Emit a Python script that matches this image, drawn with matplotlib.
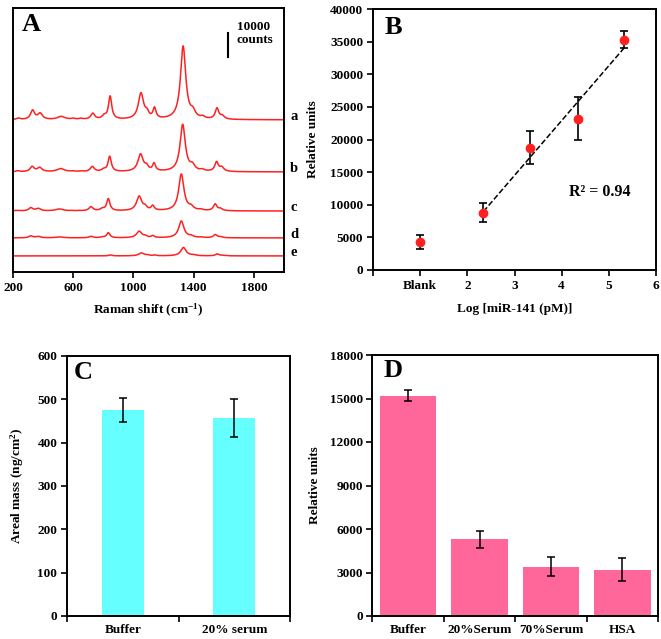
import numpy as np
import matplotlib
matplotlib.use('Agg')
import matplotlib.pyplot as plt

plt.rcParams['font.family'] = 'Liberation Serif'
plt.rcParams['font.weight'] = 'bold'
plt.rcParams['axes.labelweight'] = 'bold'
plt.rcParams['mathtext.fontset'] = 'custom'
plt.rcParams['mathtext.rm'] = 'Liberation Serif:bold'
plt.rcParams['mathtext.it'] = 'Liberation Serif:bold'
plt.rcParams['mathtext.bf'] = 'Liberation Serif:bold'
plt.rcParams['font.size'] = 10

# ---- Panel A: Raman spectra, peak table ----
peak_pos = [235, 330, 380, 520, 600, 650, 730, 805, 845, 1050, 1090, 1140, 1330, 1395, 1460, 1555, 1590]
peak_fwhm = [30, 32, 38, 60, 30, 30, 32, 30, 26, 42, 28, 24, 42, 38, 30, 28, 32]
trace_names = ['a', 'b', 'c', 'd', 'e']
trace_heights = [
    [600, 3800, 2500, 1300, 400, 400, 2500, 1300, 9600, 10800, 2100, 4300, 30500, 2500, 800, 4500, 1300],
    [400, 2100, 1700, 1300, 200, 200, 2100, 800, 6300, 7200, 1700, 3100, 19600, 2100, 600, 3900, 1700],
    [200, 1300, 1000, 800, 100, 100, 1700, 800, 5000, 6000, 1300, 1900, 15300, 1300, 400, 2700, 800],
    [0, 800, 600, 400, 0, 0, 600, 300, 2100, 2700, 600, 800, 7000, 600, 200, 1300, 400],
    [0, 0, 0, 0, 0, 0, 0, 0, 400, 1200, 300, 300, 3500, 300, 0, 800, 200],
]
trace_baseline = [63400, 41700, 25400, 14200, 6700]
trace_shift = [0, -3, -12, -12, 2]
scale_bar_x = 1630
scale_bar_counts = 10000

# ---- Panel B: calibration ----
logc = [1.0, 2.34, 3.33, 4.34, 5.33]
rel_units = [4300, 8800, 18750, 23200, 35300]
rel_err = [1100, 1400, 2500, 3300, 1300]
b_ticks = [0, 1, 2, 3, 4, 5, 6]
b_ticklabels = ['', 'Blank', '2', '3', '4', '5', '6']

# ---- Panel C: areal mass ----
c_cats = ['Buffer', '20% serum']
c_vals = [475, 457]
c_err = [27, 43]

# ---- Panel D: selectivity ----
d_cats = ['Buffer', '20%Serum', '70%Serum', 'HSA']
d_vals = [15200, 5300, 3400, 3200]
d_err = [380, 590, 650, 800]

red = '#ff2020'
W, H = 661, 639
fs = 9.5
fig = plt.figure(figsize=(W / 100, H / 100), dpi=100)


def box(l, t, r, b):
    return [l / W, 1 - b / H, (r - l) / W, (b - t) / H]


def style(ax):
    for s in ax.spines.values():
        s.set_linewidth(1.4)
    ax.tick_params(direction='out', width=1.2, length=4, labelsize=fs, pad=3)


# Panel A
axA = fig.add_axes(box(13, 8, 284, 272))
style(axA)
x = np.linspace(200, 2000, 1801)
for name, hts, base, sh in zip(trace_names, trace_heights, trace_baseline, trace_shift):
    y = np.full_like(x, base, dtype=float)
    for p, w, h in zip(peak_pos, peak_fwhm, hts):
        g = w / 2.0
        y += h * g ** 2 / ((x - p - sh) ** 2 + g ** 2)
    axA.plot(x, y, color=red, lw=1.1)
    axA.text(2040, base + 1500, name, ha='left', va='center', fontsize=10.5, clip_on=False)
axA.plot([scale_bar_x, scale_bar_x], [89600, 89600 + scale_bar_counts], color='black', lw=1.5)
axA.text(1687, 104500, '10000\ncounts', ha='left', va='top', fontsize=fs, linespacing=1.05)
axA.set_xlim(200, 2000)
axA.set_ylim(0, 110000)
axA.set_xticks([200, 600, 1000, 1400, 1800])
axA.set_yticks([])
axA.set_xlabel('Raman shift (cm$^{-1}$)', fontsize=fs, labelpad=6)
axA.text(0.033, 0.98, 'A', transform=axA.transAxes, fontsize=19, ha='left', va='top')

# Panel B
axB = fig.add_axes(box(373, 9, 656, 270))
style(axB)
axB.errorbar(logc, rel_units, yerr=rel_err, fmt='o', color=red, ms=6,
             ecolor='black', elinewidth=1.2, capsize=3, capthick=1.2, zorder=3)
k, b0 = np.polyfit(logc[1:], rel_units[1:], 1)
xf = np.array([logc[1], logc[-1]])
axB.plot(xf, k * xf + b0, '--', color='black', lw=1.1, zorder=2)
axB.text(4.15, 11950, 'R² = 0.94', fontsize=11.5, ha='left', va='center')
axB.set_xlim(0, 6)
axB.set_ylim(0, 40000)
axB.set_xticks(b_ticks)
axB.set_xticklabels(b_ticklabels)
axB.set_yticks(np.arange(0, 40001, 5000))
axB.set_xlabel('Log [miR-141 (pM)]', fontsize=fs, labelpad=8)
axB.set_ylabel('Relative units', fontsize=fs)
axB.yaxis.set_label_coords(-0.19, 0.5)
axB.text(0.042, 0.975, 'B', transform=axB.transAxes, fontsize=19, ha='left', va='top')

# Panel C
axC = fig.add_axes(box(67, 356, 290, 616))
style(axC)
cx = np.arange(len(c_cats)) + 0.5
axC.bar(cx, c_vals, width=0.375, color='#66ffff')
axC.errorbar(cx, c_vals, yerr=c_err, fmt='none', ecolor='black', elinewidth=1.1,
             capsize=3, capthick=1.1)
axC.set_xlim(0, len(c_cats))
axC.set_ylim(0, 600)
axC.set_yticks(np.arange(0, 601, 100))
axC.set_xticks(np.arange(len(c_cats) + 1))
axC.set_xticklabels([])
axC.set_xticks(cx, minor=True)
axC.set_xticklabels(c_cats, minor=True)
axC.tick_params(axis='x', which='minor', length=0, pad=6, labelsize=fs)
axC.set_ylabel('Areal mass (ng/cm$^{2}$)', fontsize=fs)
axC.yaxis.set_label_coords(-0.185, 0.5)
axC.text(0.031, 0.98, 'C', transform=axC.transAxes, fontsize=19, ha='left', va='top')

# Panel D
axD = fig.add_axes(box(372.5, 355, 658, 616))
style(axD)
dx = np.arange(len(d_cats)) + 0.5
axD.bar(dx, d_vals, width=0.79, color='#ff6699')
axD.errorbar(dx, d_vals, yerr=d_err, fmt='none', ecolor='black', elinewidth=1.1,
             capsize=3, capthick=1.1)
axD.set_xlim(0, len(d_cats))
axD.set_ylim(0, 18000)
axD.set_yticks(np.arange(0, 18001, 3000))
axD.set_xticks(np.arange(len(d_cats) + 1))
axD.set_xticklabels([])
axD.set_xticks(dx, minor=True)
axD.set_xticklabels(d_cats, minor=True)
axD.tick_params(axis='x', which='minor', length=0, pad=6, labelsize=fs)
axD.set_ylabel('Relative units', fontsize=fs)
axD.yaxis.set_label_coords(-0.18, 0.5)
axD.text(0.037, 0.985, 'D', transform=axD.transAxes, fontsize=19, ha='left', va='top')

fig.savefig('out.png', dpi=100)
